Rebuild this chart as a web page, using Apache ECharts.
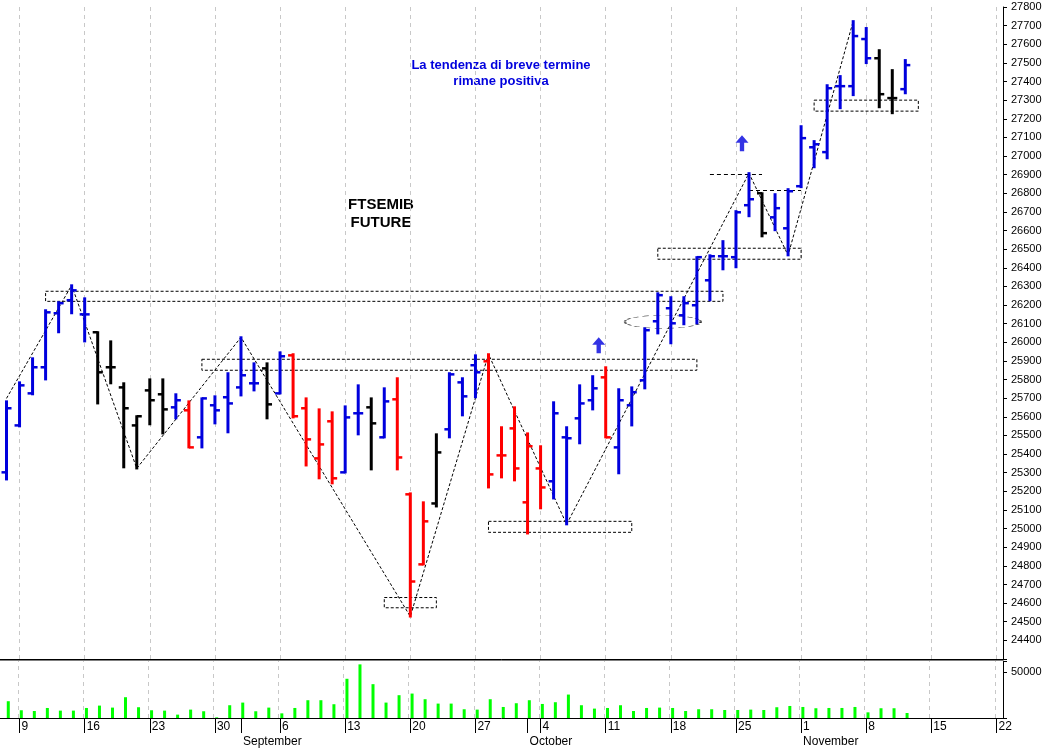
<!DOCTYPE html>
<html><head><meta charset="utf-8">
<script src="https://cdn.jsdelivr.net/npm/echarts@6/dist/echarts.min.js"></script>
<style>html,body{margin:0;padding:0;background:#fff}#c{width:1052px;height:748px}</style>
</head><body><div id="c"></div>
<script>
const categories = ["2021-08-06","2021-08-09","2021-08-10","2021-08-11","2021-08-12","2021-08-13","2021-08-16","2021-08-17","2021-08-18","2021-08-19","2021-08-20","2021-08-23","2021-08-24","2021-08-25","2021-08-26","2021-08-27","2021-08-30","2021-08-31","2021-09-01","2021-09-02","2021-09-03","2021-09-06","2021-09-07","2021-09-08","2021-09-09","2021-09-10","2021-09-13","2021-09-14","2021-09-15","2021-09-16","2021-09-17","2021-09-20","2021-09-21","2021-09-22","2021-09-23","2021-09-24","2021-09-27","2021-09-28","2021-09-29","2021-09-30","2021-10-01","2021-10-04","2021-10-05","2021-10-06","2021-10-07","2021-10-08","2021-10-11","2021-10-12","2021-10-13","2021-10-14","2021-10-15","2021-10-18","2021-10-19","2021-10-20","2021-10-21","2021-10-22","2021-10-25","2021-10-26","2021-10-27","2021-10-28","2021-10-29","2021-11-01","2021-11-02","2021-11-03","2021-11-04","2021-11-05","2021-11-08","2021-11-09","2021-11-10","2021-11-11","2021-11-12","2021-11-15","2021-11-16","2021-11-17","2021-11-18","2021-11-19","2021-11-22"];
const openV  = [25302,25554,25726,25866,26156,26226,26150,26054,25866,25758,25554,25742,25721,25651,25635,25490,25662,25705,25758,25780,25860,25726,25930,25646,25377,25576,25302,25619,25651,25490,25694,25184,24808,25135,25533,25785,25877,25898,25393,25538,25141,25323,25254,25490,25592,25689,25812,25436,25662,25796,26113,26183,26145,26199,26333,26462,26457,26736,26800,26671,26612,26838,27047,27021,27375,27375,27628,27525,27311,27359];
const highV  = [25683,25785,25914,26172,26215,26306,26236,26054,26005,25780,25603,25801,25801,25721,25683,25699,25710,25834,26027,25887,25887,25946,25936,25699,25640,25624,25656,25769,25699,25753,25807,25189,25141,25506,25834,25807,25930,25936,25544,25651,25511,25442,25678,25544,25769,25818,25866,25748,25758,26075,26263,26242,26242,26457,26467,26543,26704,26908,26800,26795,26822,27160,27080,27380,27429,27724,27687,27568,27461,27515];
const lowV   = [25264,25549,25721,25801,26054,26156,26005,25672,25780,25329,25323,25560,25511,25592,25436,25436,25565,25517,25715,25742,25592,25726,25597,25339,25270,25243,25302,25506,25318,25490,25318,24528,24808,25119,25490,25608,25705,25221,25275,25259,24974,25109,25162,25023,25458,25640,25490,25297,25554,25753,26048,25995,26097,26102,26226,26392,26403,26677,26569,26602,26467,26833,26940,26988,27257,27327,27499,27262,27230,27337];
const closeV = [25646,25769,25866,26161,26210,26279,26150,25839,25866,25646,25603,25689,25640,25689,25436,25699,25635,25672,25823,25780,25667,25925,25603,25479,25452,25270,25597,25619,25565,25683,25382,24716,25039,25409,25828,25710,25839,25291,25393,25323,25442,25221,25619,25485,25672,25753,25490,25689,25732,26065,26253,26102,26210,26457,26462,26462,26698,26768,26586,26720,26811,27096,27063,27364,27375,27644,27525,27332,27311,27488];
const barColors = "bbbbbbbkkkkkkbrbbbbbkbrrrrbbkbrrrkbbbrrrrrbbbbrbbbbbbbbbbbkbbbbbbbbkkb";
const volumes = [18400,8500,7700,11000,8100,8100,11000,13600,11400,22800,11800,8500,8100,3700,9200,7400,700,14000,16900,7400,11400,5100,11000,19500,19500,15100,43000,58800,37100,16900,25000,26800,20600,15800,15800,9600,9200,20600,12100,16200,19500,15400,17300,25700,14000,10300,11000,14000,7700,11000,11400,11000,7700,9600,9600,8800,8800,9200,8800,11800,13200,12100,10700,11000,11000,12100,6200,10700,10700,5500];
const priceTicks = [24400,24500,24600,24700,24800,24900,25000,25100,25200,25300,25400,25500,25600,25700,25800,25900,26000,26100,26200,26300,26400,26500,26600,26700,26800,26900,27000,27100,27200,27300,27400,27500,27600,27700,27800];
const monthNames = {"2021-09-01":"September","2021-10-01":"October","2021-11-01":"November"};
// zigzag trend vertices [category index, price]
const trendIdx = [0,5,10,18,31,37,43,57,60,65];
const trendVal = [25699,26306,25323,26027,24528,25936,25023,26908,26467,27724];

const colorMap = {b:'#0000dd', k:'#000000', r:'#ff0000'};
const isMonday = s => new Date(s+'T12:00:00Z').getUTCDay() === 1;
const mondayIdx = categories.map((c,i)=>isMonday(c)?i:-1).filter(i=>i>=0);

const ohlc = openV.map((o,i)=>[i,o,highV[i],lowV[i],closeV[i]]);
const chart = echarts.init(document.getElementById('c'));
const FONT = 'Liberation Sans';
const dashed = {type:[4,3], color:'#000', width:1};
const grid = {color:'#c8c8c8', type:[4,4], width:1};

chart.setOption({
  animation:false,
  textStyle:{fontFamily:FONT},
  grid:[
    {left:0, right:49, top:7, height:652, show:false},
    {left:0, right:49, top:661, height:57, show:false}
  ],
  xAxis:[
    {type:'category', data:categories, gridIndex:0, boundaryGap:true,
     axisLine:{show:true, onZero:false, lineStyle:{color:'#000'}}, axisTick:{show:false}, axisLabel:{show:false}, splitLine:{show:false}},
    {type:'category', data:categories, gridIndex:1, boundaryGap:true,
     axisLine:{show:true, onZero:false, lineStyle:{color:'#000'}},
     axisTick:{show:true, alignWithLabel:true, length:15, interval:(i,v)=>isMonday(v), lineStyle:{color:'#000'}},
     axisLabel:{interval:(i,v)=>isMonday(v), formatter:v=>String(+v.slice(8)), align:'left', padding:[0,0,0,2], margin:3, fontSize:12, color:'#000'},
     splitLine:{show:false}},
    {type:'category', data:categories, gridIndex:1, boundaryGap:true, position:'bottom', offset:15,
     axisLine:{show:false},
     axisTick:{show:true, alignWithLabel:true, length:15, interval:(i,v)=>!!monthNames[v], lineStyle:{color:'#000'}},
     axisLabel:{interval:(i,v)=>!!monthNames[v], formatter:v=>monthNames[v]||'', align:'left', padding:[0,0,0,2], margin:3, fontSize:12, color:'#000'}}
  ],
  yAxis:[
    {type:'value', gridIndex:0, position:'right', min:24300, max:27800, interval:100,
     axisLine:{show:true, lineStyle:{color:'#000'}}, axisTick:{show:true, length:4, lineStyle:{color:'#000'}},
     axisLabel:{fontSize:11, color:'#000', margin:8, formatter:v=>priceTicks.includes(v)?String(v):''},
     splitLine:{show:false}},
    {type:'value', gridIndex:1, position:'right', min:0, max:62500, interval:50000,
     axisLine:{show:true, lineStyle:{color:'#000'}}, axisTick:{show:true, length:4, lineStyle:{color:'#000'}},
     axisLabel:{fontSize:11, color:'#000', margin:8, formatter:v=>v===50000?'50000':''},
     splitLine:{show:false}}
  ],
  graphic:[
    {type:'text', style:{text:'La tendenza di breve termine\nrimane positiva', x:501, y:57, align:'center', fill:'#0000dd', font:'bold 13px "Liberation Sans"', lineHeight:16}},
    {type:'text', style:{text:'FTSEMIB\nFUTURE', x:381, y:196, align:'center', fill:'#000', font:'bold 15px "Liberation Sans"', lineHeight:18}},
    {type:'line', shape:{x1:0,y1:660,x2:1003,y2:660}, style:{stroke:'#000', lineWidth:1}}
  ],
  series:[
    {type:'line', xAxisIndex:0, yAxisIndex:0, data:[], silent:true, z:0, zlevel:0,
     markLine:{silent:true, z:0, symbol:'none', label:{show:false}, lineStyle:grid, data:mondayIdx.map(i=>({xAxis:i}))}},
    {type:'bar', xAxisIndex:1, yAxisIndex:1, data:[], silent:true, z:0,
     markLine:{silent:true, z:0, symbol:'none', label:{show:false}, lineStyle:grid, data:mondayIdx.map(i=>({xAxis:i}))}},
    {type:'custom', xAxisIndex:0, yAxisIndex:0, data:ohlc, encode:{x:0, y:[1,2,3,4]}, z:10,
     renderItem:(params, api)=>{
       const i=api.value(0);
       const o=api.coord([i,api.value(1)]), h=api.coord([i,api.value(2)]), l=api.coord([i,api.value(3)]), c=api.coord([i,api.value(4)]);
       const x=h[0], w=5;
       const col=colorMap[barColors[params.dataIndex]];
       return {type:'group', children:[
         {type:'line', shape:{x1:x,y1:h[1]-1,x2:x,y2:l[1]+1}, style:{stroke:col, lineWidth:3}},
         {type:'line', shape:{x1:x-w,y1:o[1],x2:x,y2:o[1]}, style:{stroke:col, lineWidth:2.5}},
         {type:'line', shape:{x1:x,y1:c[1],x2:x+w,y2:c[1]}, style:{stroke:col, lineWidth:2.5}}
       ]};
     }},
    {type:'line', xAxisIndex:0, yAxisIndex:0, data:[], silent:true, z:3,
     markArea:{silent:true, itemStyle:{color:'rgba(0,0,0,0)', borderColor:'#000', borderWidth:1, borderType:[3,2]},
       data:[
         [{xAxis:3, yAxis:26274},{xAxis:55.4, yAxis:26220}],
         [{xAxis:14.7, yAxis:25909},{xAxis:53.3, yAxis:25850}],
         [{xAxis:28.7, yAxis:24630},{xAxis:32.5, yAxis:24575}],
         [{xAxis:36.5, yAxis:25039},{xAxis:48.3, yAxis:24980}],
         [{xAxis:50.4, yAxis:26505},{xAxis:61.2, yAxis:26446}],
         [{xAxis:62.4, yAxis:27300},{xAxis:70.1, yAxis:27241}]
       ]},
     markLine:{silent:true, symbol:'none', label:{show:false}, lineStyle:dashed,
       data:[
         [{xAxis:54.4, yAxis:26903},{xAxis:58.3, yAxis:26903}],
         [{xAxis:57.2, yAxis:26817},{xAxis:61.4, yAxis:26817}]
       ]}},
    {type:'line', xAxisIndex:0, yAxisIndex:0, data:trendIdx.map((x,k)=>[x,trendVal[k]]), symbol:'none', silent:true, z:4,
     lineStyle:{color:'#000', width:1, type:[3,2]}},
    {type:'scatter', xAxisIndex:0, yAxisIndex:0, silent:true, z:4,
     data:[[51,26110]], symbol:'circle', symbolSize:[76,13], symbolOffset:[-8,0],
     itemStyle:{color:'rgba(0,0,0,0)', borderColor:'#000', borderWidth:1, borderType:[3,2]}},
    {type:'scatter', xAxisIndex:0, yAxisIndex:0, silent:true, z:4,
     data:[[46,25984],[57,27069]], symbol:'path://M6,0 L12,7 L8,7 L8,15 L4,15 L4,7 L0,7 Z', symbolSize:[13,16], symbolOffset:[-7,0],
     itemStyle:{color:'#0000dd'}},
    {type:'bar', xAxisIndex:1, yAxisIndex:1, data:volumes, barWidth:3, itemStyle:{color:'#00ff00'}, silent:true, z:5}
  ]
});
</script></body></html>
